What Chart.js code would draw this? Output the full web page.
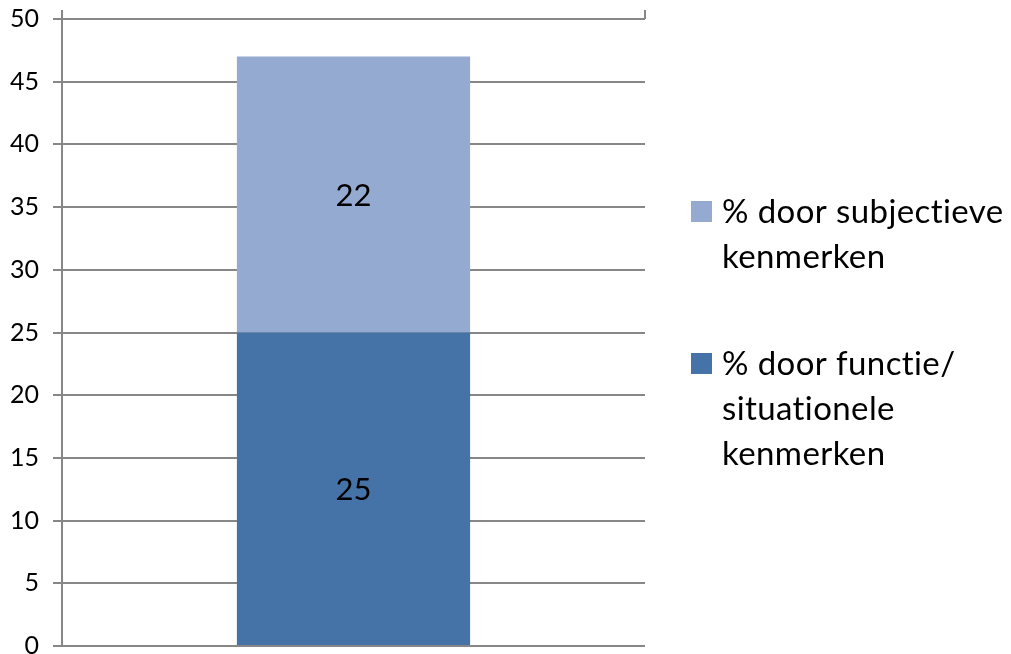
<!DOCTYPE html>
<html>
<head>
<meta charset="utf-8">
<script src="https://cdn.jsdelivr.net/npm/chart.js@4"></script>
<style>
  html, body { margin: 0; padding: 0; background: #fff; }
  #wrap { width: 1011px; height: 654px; }
</style>
</head>
<body>
<div id="wrap"><canvas id="chart" width="1011" height="654"></canvas></div>
<script>
// chart data
const categories = [''];
const seriesLabels = [
    ['% door functie/', 'situationele', 'kenmerken'],
    ['% door subjectieve', 'kenmerken']
];
const situationalValues = [25];
const subjectiveValues = [22];
const seriesColors = ['#4673A7', '#95AAD1'];

const FONT = 'Lato, "Open Sans", sans-serif';

// writes the value in the middle of each stacked segment
const segmentLabels = {
    id: 'segmentLabels',
    afterDatasetsDraw(chart) {
        const ctx = chart.ctx;
        ctx.save();
        ctx.font = '31px ' + FONT;
        ctx.fillStyle = '#000';
        ctx.textAlign = 'center';
        ctx.textBaseline = 'middle';
        chart.data.datasets.forEach((ds, i) => {
            chart.getDatasetMeta(i).data.forEach((bar, j) => {
                const mid = (bar.y + bar.base) / 2;
                ctx.fillText(ds.data[j], bar.x, mid + 1);
            });
        });
        ctx.restore();
    }
};

// legend on the right, top item = top of the stack, wrapped text
const sideLegend = {
    id: 'sideLegend',
    afterDraw(chart) {
        const ctx = chart.ctx;
        const area = chart.chartArea;
        const boxX = area.right + 46;
        const textX = boxX + 31;
        const lineH = 45;
        ctx.save();
        ctx.font = '33px ' + FONT;
        ctx.letterSpacing = '0.4px';
        ctx.fillStyle = '#000';
        ctx.textBaseline = 'alphabetic';
        const order = [1, 0];
        const tops = [201, 353];
        order.forEach((dsIndex, k) => {
            const ds = chart.data.datasets[dsIndex];
            ctx.fillStyle = ds.backgroundColor;
            ctx.fillRect(boxX, tops[k], 21, 21);
            ctx.fillStyle = '#000';
            seriesLabels[dsIndex].forEach((line, n) => {
                ctx.fillText(line, textX, tops[k] + 22 + n * lineH);
            });
        });
        ctx.restore();
    }
};

new Chart(document.getElementById('chart'), {
    type: 'bar',
    data: {
        labels: categories,
        datasets: [
            { label: seriesLabels[0].join(' '), data: situationalValues, backgroundColor: seriesColors[0] },
            { label: seriesLabels[1].join(' '), data: subjectiveValues, backgroundColor: seriesColors[1] }
        ]
    },
    options: {
        responsive: false,
        animation: false,
        barPercentage: 0.8,
        categoryPercentage: 0.5,
        layout: { padding: { top: 0, right: 366, bottom: 8, left: 0 } },
        plugins: {
            legend: { display: false },
            tooltip: { enabled: false }
        },
        scales: {
            x: {
                stacked: true,
                position: 'top',
                offset: true,
                grid: {
                    offset: true,
                    drawOnChartArea: false,
                    tickLength: 9,
                    color: '#878787',
                    lineWidth: 2
                },
                border: { display: false },
                ticks: { display: false },
                afterFit(scale) { scale.height = 19; }
            },
            y: {
                stacked: true,
                min: 0,
                max: 50,
                ticks: {
                    stepSize: 5,
                    color: '#000',
                    padding: 14,
                    font: { family: FONT, size: 25 }
                },
                grid: { color: '#878787', lineWidth: 2, tickLength: 9 },
                border: { color: '#878787', width: 2 },
                afterFit(scale) {
                    scale.width = 62;
                    scale.paddingTop = 0;
                    scale.paddingBottom = 0;
                }
            }
        }
    },
    plugins: [segmentLabels, sideLegend]
});
</script>
</body>
</html>
